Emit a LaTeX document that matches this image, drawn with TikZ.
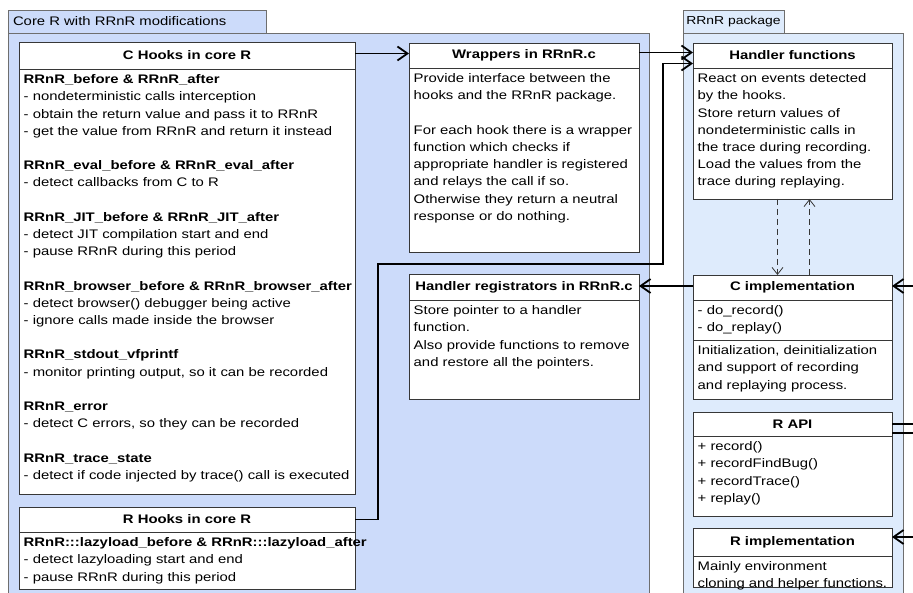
\documentclass[tikz,border=0pt]{standalone}
\usepackage{fontspec}
\setmainfont{Liberation Sans}[FakeStretch=1.2]
\usetikzlibrary{arrows.meta}

\definecolor{corefill}{RGB}{204,219,250}
\definecolor{rrnrfill}{RGB}{222,235,252}
\definecolor{pkgline}{RGB}{110,110,110}
\definecolor{boxline}{RGB}{55,55,55}
\newcommand\bodyfont{\fontsize{12.4}{17.2}\selectfont}

\tikzset{pkgbody/.style = {draw=pkgline, line width=0.9pt, anchor=north west, inner sep=0pt, outer sep=0pt}}
\tikzset{pkgtab/.style = {draw=pkgline, line width=0.9pt, anchor=south west, inner xsep=5pt, inner ysep=0pt, outer sep=0pt, minimum height=23, align=left, font=\bodyfont}}
\tikzset{head/.style = {draw=boxline, fill=white, line width=0.9pt, anchor=north west, inner sep=0pt, outer sep=0pt, font=\bodyfont\bfseries}}
\tikzset{part/.style = {draw=boxline, fill=white, line width=0.9pt, anchor=north west, inner sep=0pt, outer sep=0pt}}
\tikzset{memo/.style = {anchor=north west, align=left, text width=#1, inner xsep=4.5pt, inner ysep=2.5pt, font=\bodyfont, execute at begin node=\strut}}
\tikzset{link/.style = {draw=black, line width=1.8pt, -{Straight Barb[length=10pt,width=14pt]}}}
\tikzset{wire/.style = {draw=black, line width=1.8pt}}
\tikzset{dep/.style = {draw=boxline, line width=0.8pt, dash pattern=on 6pt off 4pt, -{Straight Barb[length=7pt,width=11pt]}}}

\begin{document}
\begin{tikzpicture}[x=1pt,y=-1pt]
\useasboundingbox (0,0) rectangle (913,593);
\clip (0,0) rectangle (913,593);

% packages
\node [pkgbody, fill=corefill, minimum width=641, minimum height=575] (corepkg) at (8,33) {};
\node [pkgtab, fill=corefill, text width=248] (coretab) at (corepkg.north west) {Core R with RRnR modifications};
\node [pkgbody, fill=rrnrfill, minimum width=220, minimum height=575] (rrnrpkg) at (683,33) {};
\node [pkgtab, fill=rrnrfill, inner xsep=0pt, minimum width=101, font=\fontsize{11.6}{14}\selectfont] (rrnrtab) at (rrnrpkg.north west) {RRnR package};

% core R
\node [head, minimum width=336, minimum height=27] (chooks) at (19,42) {C Hooks in core R};
\node [part, minimum width=336, minimum height=425] (chooksb) at (chooks.south west) {};
\node [memo=345] at (chooksb.north west) {\textbf{RRnR\_before \& RRnR\_after}\\
- nondeterministic calls interception\\
- obtain the return value and pass it to RRnR\\
- get the value from RRnR and return it instead\\[17.2pt]
\textbf{RRnR\_eval\_before \& RRnR\_eval\_after}\\
- detect callbacks from C to R\\[17.2pt]
\textbf{RRnR\_JIT\_before \& RRnR\_JIT\_after}\\
- detect JIT compilation start and end\\
- pause RRnR during this period\\[17.2pt]
\textbf{RRnR\_browser\_before \& RRnR\_browser\_after}\\
- detect browser() debugger being active\\
- ignore calls made inside the browser\\[17.2pt]
\textbf{RRnR\_stdout\_vfprintf}\\
- monitor printing output, so it can be recorded\\[17.2pt]
\textbf{RRnR\_error}\\
- detect C errors, so they can be recorded\\[17.2pt]
\textbf{RRnR\_trace\_state}\\
- detect if code injected by trace() call is executed};

\node [head, minimum width=336, minimum height=25] (rhooks) at (19,507) {R Hooks in core R};
\node [part, minimum width=336, minimum height=57] (rhooksb) at (rhooks.south west) {};
\node [memo=345] at (rhooksb.north west) {\textbf{RRnR:::lazyload\_before \& RRnR:::lazyload\_after}\\
- detect lazyloading start and end\\
- pause RRnR during this period};

\node [head, minimum width=230, minimum height=25] (wrap) at (409,43) {Wrappers in RRnR.c};
\node [part, minimum width=230, minimum height=184] (wrapb) at (wrap.south west) {};
\node [memo=240] at (wrapb.north west) {Provide interface between the\\
hooks and the RRnR package.\\[17.2pt]
For each hook there is a wrapper\\
function which checks if\\
appropriate handler is registered\\
and relays the call if so.\\
Otherwise they return a neutral\\
response or do nothing.};

\node [head, minimum width=230, minimum height=26] (hreg) at (409,274) {Handler registrators in RRnR.c};
\node [part, minimum width=230, minimum height=99] (hregb) at (hreg.south west) {};
\node [memo=240] at (hregb.north west) {Store pointer to a handler\\
function.\\
Also provide functions to remove\\
and restore all the pointers.};

% RRnR package
\node [head, minimum width=199, minimum height=25] (hfun) at (693,43) {Handler functions};
\node [part, minimum width=199, minimum height=131] (hfunb) at (hfun.south west) {};
\node [memo=210] at (hfunb.north west) {React on events detected\\
by the hooks.\\
Store return values of\\
nondeterministic calls in\\
the trace during recording.\\
Load the values from the\\
trace during replaying.};

\node [head, minimum width=199, minimum height=25] (cimpl) at (693,275) {C implementation};
\node [part, minimum width=199, minimum height=40] (cimpla) at (cimpl.south west) {};
\node [memo=210] at (cimpla.north west) {- do\_record()\\
- do\_replay()};
\node [part, minimum width=199, minimum height=59] (cimplb) at (cimpla.south west) {};
\node [memo=210] at (cimplb.north west) {Initialization, deinitialization\\
and support of recording\\
and replaying process.};

\node [head, minimum width=199, minimum height=24] (rapi) at (693,412) {R API};
\node [part, minimum width=199, minimum height=80] (rapib) at (rapi.south west) {};
\node [memo=210] at (rapib.north west) {+ record()\\
+ recordFindBug()\\
+ recordTrace()\\
+ replay()};

\node [head, minimum width=199, minimum height=28] (rimpl) at (693,528) {R implementation};
\node [part, minimum width=199, minimum height=31] (rimplb) at (rimpl.south west) {};
\node [memo=210] at (rimplb.north west) {Mainly environment\\
cloning and helper functions.};

% loose ends at the right edge
\coordinate (cin) at (913,286);
\coordinate (apiout) at (913,424);
\coordinate (apiout2) at (913,433);
\coordinate (rin) at (913,537);
\coordinate (bend) at (663,264);

\draw [link] ([yshift=2pt]chooks.east) -- ([yshift=2pt]wrap.west);
\draw [link] ([yshift=3pt]wrap.east) -- ([yshift=3pt]hfun.west);
\draw [link] (rhooks.east) -- ++(23,0) |- (bend) |- ([yshift=-8pt]hfun.west);
\draw [link] (cimpl.west |- cin) -- (hreg.east |- cin);
\draw [dep] ([xshift=-15pt]hfunb.south) -- ([xshift=-15pt]cimpl.north);
\draw [dep] ([xshift=17pt]cimpl.north) -- ([xshift=17pt]hfunb.south);
\draw [link] (cin) -- (cin -| cimpl.east);
\draw [wire] (rapi.east |- apiout) -- (apiout);
\draw [wire] (rapi.east |- apiout2) -- (apiout2);
\draw [link] (rin) -- (rin -| rimpl.east);
\end{tikzpicture}
\end{document}
